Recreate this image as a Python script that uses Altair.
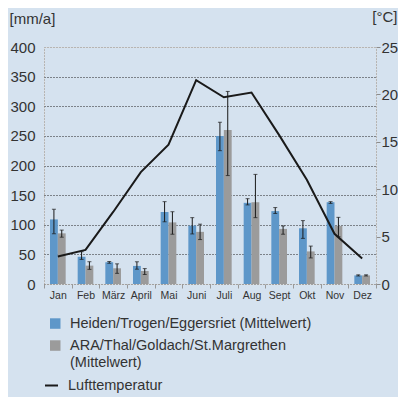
import altair as alt
import pandas as pd

months = ["Jan", "Feb", "März", "April", "Mai", "Juni", "Juli", "Aug", "Sept", "Okt", "Nov", "Dez"]

series_a = "Heiden/Trogen/Eggersriet (Mittelwert)"
series_b = "ARA/Thal/Goldach/St.Margrethen (Mittelwert)"
temp_label = "Lufttemperatur"

a_vals = [109, 46, 36.5, 30.5, 121.5, 98.5, 250, 137, 123, 94, 138, 14.5]
a_lo = [85, 41.5, 35, 25, 105, 84.5, 225, 133.5, 119, 77, 136, 13.5]
a_hi = [126, 54.5, 38, 37.5, 139, 112, 273, 144, 129, 107, 139, 15.5]

b_vals = [85.5, 31, 26.5, 22, 104, 88, 260, 138, 93, 55, 98, 14.5]
b_lo = [79, 24.7, 18, 16, 84, 75, 183, 112, 84, 44, 80, 13.5]
b_hi = [91, 37.6, 34, 26, 122, 101, 325, 185, 98, 64, 112.5, 15.5]

temp = [2.9, 3.6, 7.6, 11.8, 14.7, 21.5, 19.7, 20.2, 15.7, 11.0, 5.3, 2.7]

mm_ticks = [0, 50, 100, 150, 200, 250, 300, 350, 400]
c_ticks = [0, 5, 10, 15, 20, 25]

rows = []
for i, m in enumerate(months):
    rows.append(dict(month=m, series=series_a, value=a_vals[i], lo=a_lo[i], hi=a_hi[i]))
    rows.append(dict(month=m, series=series_b, value=b_vals[i], lo=b_lo[i], hi=b_hi[i]))
bars_df = pd.DataFrame(rows)
temp_df = pd.DataFrame({"month": months, "temp": temp, "label": [temp_label] * len(months)})

FONT = "Liberation Sans"
TXT = "#333333"
GRID_GRAY = "#8c8c8c"

x_enc = alt.X(
    "month:N",
    sort=months,
    scale=alt.Scale(paddingInner=0, paddingOuter=0),
    axis=alt.Axis(
        title=None, labelAngle=0, tickBand="extent", tickSize=4, tickColor="#999999",
        domainColor=GRID_GRAY, domainDash=[1, 2], labelFontSize=10.5, labelColor=TXT,
        labelPadding=2, grid=False,
    ),
)
xoff = alt.XOffset("series:N", sort=[series_a, series_b],
                   scale=alt.Scale(domain=[series_a, series_b], paddingOuter=0.766, paddingInner=0))

y_axis = alt.Axis(
    values=mm_ticks, title="[mm/a]", titleAngle=0, titleAlign="left", titleBaseline="middle",
    titleX=-35, titleY=-29, titleFontSize=15, titleFontWeight="normal", titleColor=TXT,
    labelFontSize=15, labelColor=TXT, labelPadding=9, tickSize=0, ticks=False,
    domainColor=GRID_GRAY, domainDash=[1, 2],
    grid=True, gridDash=[1, 2],
    gridColor={"condition": {"test": "datum.value == 400 || datum.value == 0", "value": GRID_GRAY}, "value": "#222222"},
)
y_scale = alt.Scale(domain=[0, 400], nice=False)

bars = alt.Chart(bars_df).mark_bar().encode(
    x=x_enc,
    xOffset=xoff,
    y=alt.Y("value:Q", scale=y_scale, axis=y_axis),
    color=alt.Color(
        "series:N",
        scale=alt.Scale(domain=[series_a, series_b], range=["#5e97c9", "#9b9b9b"]),
        legend=alt.Legend(
            title=None, orient="none", legendX=4, legendY=263,
            symbolType="M-1,0.2H1V2.2H-1Z",
            symbolSize=110, symbolStrokeWidth=0, labelFontSize=14.5, labelColor=TXT,
            labelLimit=400, labelOffset=7.5, rowPadding=1, labelBaseline="top",
            labelExpr="datum.label == '" + series_b + "' ? ['ARA/Thal/Goldach/St.Margrethen', '(Mittelwert)'] : datum.label",
        ),
    ),
)

rules = alt.Chart(bars_df).mark_rule(color="#1a1a1a", strokeWidth=1).encode(
    x=x_enc,
    xOffset=xoff,
    y=alt.Y("lo:Q", scale=y_scale, axis=y_axis),
    y2="hi:Q",
)

caps = alt.Chart(bars_df).transform_fold(["lo", "hi"], as_=["end", "endval"]).mark_tick(
    color="#1a1a1a", thickness=1, size=4
).encode(
    x=x_enc,
    xOffset=xoff,
    y=alt.Y("endval:Q", scale=y_scale, axis=y_axis),
)

left = alt.layer(bars, rules, caps)

line = alt.Chart(temp_df).mark_line(strokeWidth=2).encode(
    x=x_enc,
    y=alt.Y(
        "temp:Q",
        scale=alt.Scale(domain=[0, 25], nice=False),
        axis=alt.Axis(
            orient="right", values=c_ticks, title="[°C]", titleAngle=0, titleAlign="right",
            titleBaseline="middle", titleX=21, titleY=-31, titleFontSize=15,
            titleFontWeight="normal", titleColor=TXT, labelFontSize=15, labelColor=TXT,
            tickSize=4, tickColor=GRID_GRAY, labelPadding=1, domainColor=GRID_GRAY,
            domainDash=[1, 2], grid=False,
        ),
    ),
    stroke=alt.Stroke(
        "label:N",
        scale=alt.Scale(domain=[temp_label], range=["#1a1a1a"]),
        legend=alt.Legend(
            title=None, orient="none", legendX=0, legendY=331, symbolType="stroke",
            symbolSize=169, symbolStrokeWidth=2, labelFontSize=14.5, labelColor=TXT,
            labelOffset=9, labelLimit=400,
        ),
    ),
)

chart = alt.layer(left, line).resolve_scale(y="independent").properties(
    width=332,
    height=237,
    autosize=alt.AutoSizeParams(type="none"),
    padding={"left": 36, "top": 39, "right": 22, "bottom": 113},
    background="#d5e2ef",
).configure_view(stroke=None).configure(font=FONT)

chart.save("out.html", embed_options={"renderer": "svg", "actions": False})
